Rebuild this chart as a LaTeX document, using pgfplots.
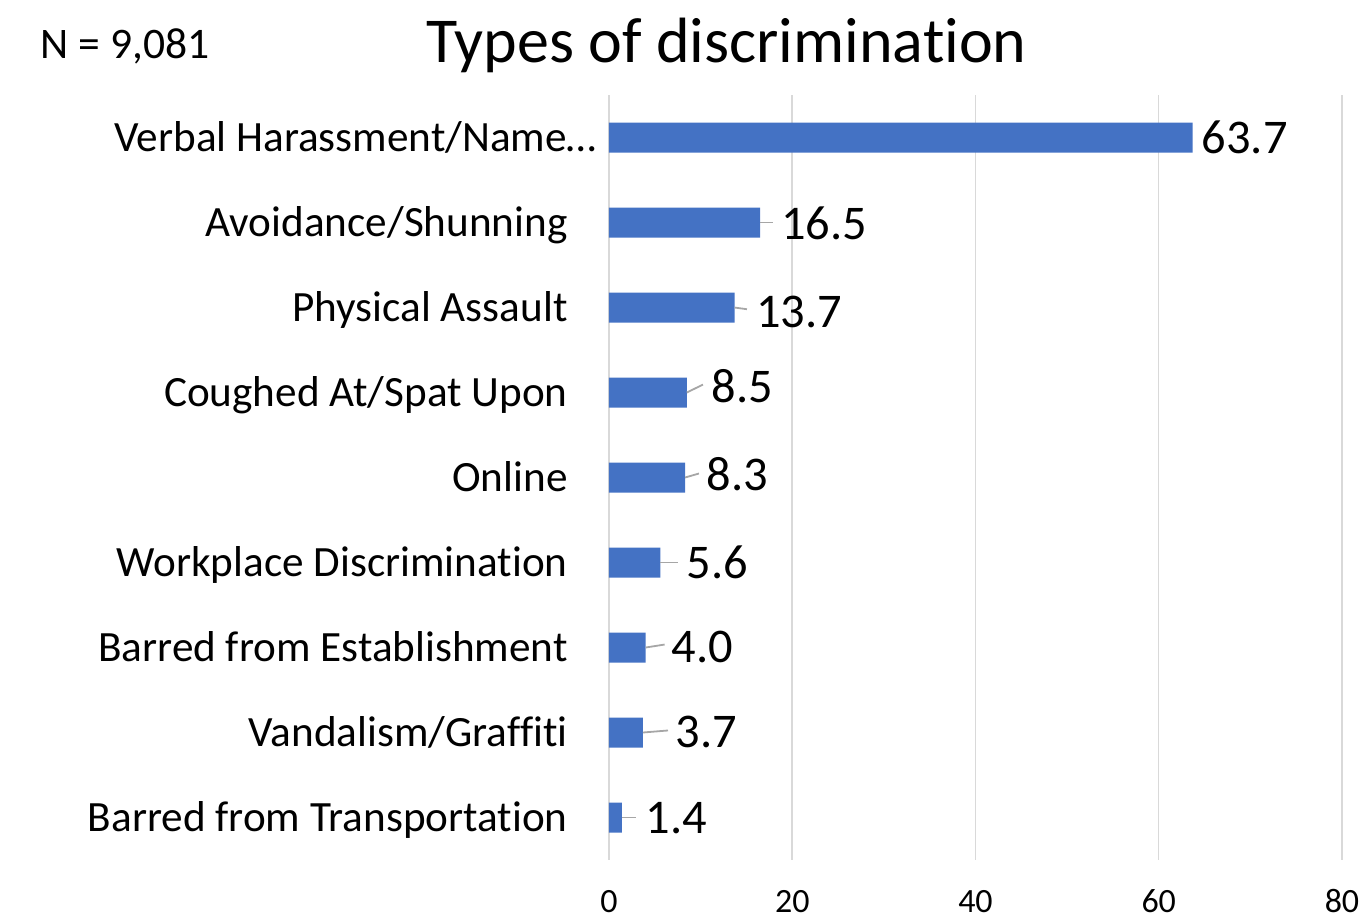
\documentclass[border=0pt]{standalone}
\usepackage{fontspec}
\setmainfont{Carlito}[Ligatures=NoCommon]
\usepackage{pgfplots}
\pgfplotsset{compat=1.18}
\usepackage{pgfplotstable}
\definecolor{barblue}{HTML}{4472C4}
\definecolor{gridgray}{HTML}{D9D9D9}
\definecolor{leadgray}{HTML}{A6A6A6}
\newcommand\catfont{\fontsize{21.6}{26}\selectfont}
\newcommand\datafont{\fontsize{24.2}{29}\selectfont}
\newcommand\tickfont{\fontsize{17}{20}\selectfont}

\pgfplotstableread{
idx val lx ly lab
0 63.7 64.65 0.012 63.7
1 16.5 18.77 1.024 16.5
2 13.7 16.04 2.053 13.7
3 8.5 11.15 2.935 8.5
4 8.3 10.60 3.976 8.3
5 5.6 8.42 5.012 5.6
6 4.0 6.80 6.000 4.0
7 3.7 7.22 7.000 3.7
8 1.4 3.95 8.010 1.4
}\datatable

\pgfplotstableread{
idx val u v
1 16.5 1.40 0.000
2 13.7 1.36 0.020
3 8.5 1.76 -0.094
4 8.3 1.52 -0.047
5 5.6 1.93 0.000
6 4.0 2.07 -0.035
7 3.7 2.74 -0.024
8 1.4 1.60 0.000
}\leadtable

\begin{document}
\begin{tikzpicture}
\path[use as bounding box] (0pt,0pt) rectangle (680.5pt,459pt);
\begin{axis}[
  at={(304.5pt,29pt)}, anchor=south west,
  scale only axis, width=366.5pt, height=382.5pt,
  xmin=0, xmax=80, ymin=-0.5, ymax=8.5, y dir=reverse,
  xtick={0,20,40,60,80}, ytick={0,1,2,3,4,5,6,7,8},
  yticklabels={{\mbox{Verbal Harassment/Name…\kern-14.5pt}},
    Avoidance/Shunning, Physical Assault, Coughed At/Spat Upon, Online,
    Workplace Discrimination, Barred from Establishment, Vandalism/Graffiti,
    Barred from Transportation},
  xmajorgrids, major grid style={gridgray, line width=0.75pt},
  axis line style={draw=none}, major tick length=0pt, tick style={draw=none},
  xticklabel style={font=\tickfont, anchor=base, yshift=-26pt, inner sep=0pt},
  yticklabel style={font=\catfont, anchor=base east, inner sep=0pt, xshift=-20.5pt, yshift=-7pt},
  /pgf/number format/assume math mode=true,
  clip=false,
]
\addplot[xbar, fill=barblue, draw=none, bar width=15pt] table[x=val, y=idx] {\datatable};
\addplot[leadgray, line width=0.9pt, -, quiver={u=\thisrow{u}, v=\thisrow{v}}] table[x=val, y=idx] {\leadtable};
\addplot[draw=none, mark=none, nodes near coords, point meta=explicit symbolic,
  every node near coord/.append style={anchor=base west, inner sep=0pt, yshift=-7.7pt, font=\datafont, text=black}]
  table[x=lx, y=ly, meta=lab] {\datatable};
\end{axis}
\node[anchor=base, inner sep=0pt, font=\fontsize{32}{38}\selectfont] at (363.25pt,427.5pt) {Types of discrimination};
\node[anchor=base west, inner sep=0pt, font=\fontsize{21.8}{26}\selectfont] at (20.2pt,429.5pt) {N = 9,081};
\end{tikzpicture}
\end{document}
